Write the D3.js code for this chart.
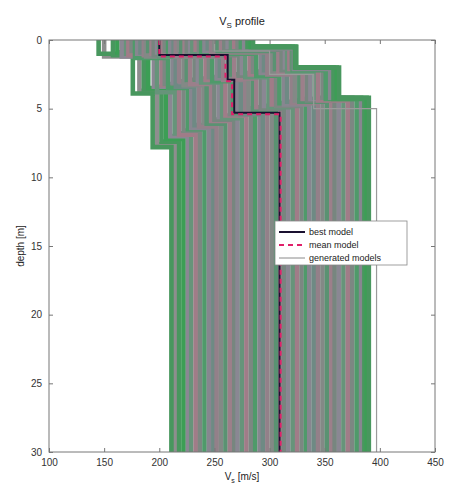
<!DOCTYPE html>
<html><head><meta charset="utf-8">
<script src="https://cdn.jsdelivr.net/npm/d3@7"></script>
<style>body{margin:0;background:#fff}svg{display:block}text{font-family:"Liberation Sans",Arial,sans-serif}</style>
</head><body>
<svg id="c" width="449" height="486"></svg>
<script>
// Monte Carlo ensemble: per-model layer velocities (m/s) and layer bottoms (m)
const layer1Vs = [145,150,158,162,166,170,172,175,178,180,183,186,188,190,193,195,198,200,203,205,208,210,213,215,218,220,223,225,228,230,233,236,238,241,244,247,250,253,256,259,262,265,268,271,274,277,280,283,285,250];
const layer2Vs = [176,182,186,190,195,198,202,205,208,212,215,218,222,225,228,232,235,238,242,245,248,252,255,258,262,265,268,272,275,278,282,285,288,292,295,298,302,305,308,311,314,316,318,320,321,322,323,324,324,300];
const layer3Vs = [194,198,202,206,210,214,218,222,226,229,232,236,240,243,247,250,254,257,260,264,267,271,274,278,281,285,288,292,295,299,302,306,309,313,316,320,323,327,330,334,337,341,344,348,351,355,358,361,363,340];
const halfspaceVs = [211,214,218,222,226,229,233,237,241,245,249,252,256,260,264,268,271,275,279,283,287,291,294,298,302,306,310,313,317,321,325,329,333,336,340,344,348,352,356,359,363,367,371,375,379,383,386,388,390,397];
const layer1Bottom = [1.0,1.2,1.1,0.9,1.2,1.0,1.1,0.8,1.3,1.0,0.9,1.1,1.2,0.8,1.0,1.1,0.9,1.2,1.0,0.8,1.1,0.9,1.0,1.2,0.7,1.0,0.9,1.1,0.8,1.0,0.7,0.9,1.0,0.8,0.6,0.9,0.7,0.8,0.6,0.7,0.5,0.6,0.5,0.6,0.5,0.6,0.5,0.5,0.5,0.8];
const layer2Bottom = [3.9,3.7,3.6,3.5,3.4,3.8,3.3,3.2,3.5,3.1,3.4,3.0,3.3,2.9,3.2,2.8,3.0,3.1,2.9,2.7,3.0,2.8,2.6,2.9,2.7,2.5,2.8,2.6,2.4,2.7,2.5,2.3,2.6,2.4,2.2,2.5,2.3,2.1,2.4,2.2,2.0,2.3,2.1,2.0,2.2,2.1,2.0,2.0,2.0,2.5];
const layer3Bottom = [7.8,7.6,7.4,7.2,7.0,6.8,6.9,6.6,6.5,6.4,6.2,6.3,6.0,6.1,5.9,5.8,5.6,5.7,5.5,5.4,5.3,5.2,5.4,5.1,5.0,5.2,4.9,5.0,4.8,4.9,4.7,4.8,4.6,4.7,4.5,4.6,4.4,4.5,4.3,4.4,4.3,4.2,4.4,4.2,4.3,4.2,4.3,4.2,4.2,5.0];

// best and mean model: layer velocities and layer bottoms
const bestVs = [200,262,268,309];
const bestBottom = [1.1,2.9,5.3];
const meanVs = [200,260,266,310];
const meanBottom = [1.2,3.0,5.4];

const xTicks = [100,150,200,250,300,350,400,450];
const yTicks = [0,5,10,15,20,25,30];
const legendLabels = ["best model","mean model","generated models"];

const maxDepth = 30;
const svg = d3.select("#c");
const L=49,R=435,T=40,B=452;
const x = d3.scaleLinear().domain([100,450]).range([L,R]);
const y = d3.scaleLinear().domain([0,30]).range([T,B]);

function profile(vs, bottoms){
  const pts=[]; let top=0;
  vs.forEach((v,i)=>{
    const bot = i<bottoms.length ? bottoms[i] : maxDepth;
    pts.push([v,top]); pts.push([v,bot]); top=bot;
  });
  return pts;
}
const line = d3.line().x(d=>x(d[0])).y(d=>y(d[1]));

const palette = ["#838986","#5a9272","#9c7f8a","#77867f","#8a8793","#66947a","#a07c88","#7c8782","#4f9a6a","#878690","#6e8a84","#938089"];
const models = halfspaceVs.map((v,i)=>({i, pts: profile([layer1Vs[i],layer2Vs[i],layer3Vs[i],v],[layer1Bottom[i],layer2Bottom[i],layer3Bottom[i]])}));

const g = svg.append("g");
g.append("defs").append("clipPath").attr("id","clip").append("rect").attr("x",L).attr("y",T).attr("width",R-L).attr("height",B-T);
const plot = g.append("g").attr("clip-path","url(#clip)");

function col(i){
  if(i===49) return "#9a9a9a";
  if(i===1) return "#8e8e8e";
  if(i<=3 || i>=46) return i%2? "#3c9e55":"#48975e";
  return palette[i%palette.length];
}
// draw order: one gray outlier model first so the green edge models sit on top
const order = [1].concat(d3.range(0,50).filter(i=>i!==1));
plot.selectAll("path.m").data(order.map(i=>models[i])).join("path").attr("class","m")
  .attr("d",d=>line(d.pts)).attr("fill","none")
  .attr("stroke",d=>col(d.i))
  .attr("stroke-width",d=> d.i===49?1.2:4.6).attr("stroke-linejoin","miter");

plot.append("path").attr("d",line(profile(bestVs,bestBottom))).attr("fill","none").attr("stroke","#1a1030").attr("stroke-width",2);
plot.append("path").attr("d",line(profile(meanVs,meanBottom))).attr("fill","none").attr("stroke","#e0206a").attr("stroke-width",2).attr("stroke-dasharray","5,4");

// axes box
const ac="#777";
g.append("rect").attr("x",L).attr("y",T).attr("width",R-L).attr("height",B-T).attr("fill","none").attr("stroke",ac).attr("stroke-width",1);
const tl=4;
g.append("g").attr("transform",`translate(0,${B})`).call(d3.axisBottom(x).tickValues(xTicks).tickSize(-tl).tickPadding(7).tickFormat(d3.format("d")))
 .call(a=>{a.select(".domain").remove();a.selectAll("line").attr("stroke",ac);a.selectAll("text").attr("font-size",10).attr("fill","#333");});
g.append("g").attr("transform",`translate(0,${T})`).call(d3.axisTop(x).tickValues(xTicks).tickSize(-tl).tickFormat(""))
 .call(a=>{a.select(".domain").remove();a.selectAll("line").attr("stroke",ac);});
g.append("g").attr("transform",`translate(${L},0)`).call(d3.axisLeft(y).tickValues(yTicks).tickSize(-tl).tickPadding(7).tickFormat(d3.format("d")))
 .call(a=>{a.select(".domain").remove();a.selectAll("line").attr("stroke",ac);a.selectAll("text").attr("font-size",10).attr("fill","#333");});
g.append("g").attr("transform",`translate(${R},0)`).call(d3.axisRight(y).tickValues(yTicks).tickSize(-tl).tickFormat(""))
 .call(a=>{a.select(".domain").remove();a.selectAll("line").attr("stroke",ac);});

// title & labels
const t = svg.append("text").attr("x",242).attr("y",25).attr("text-anchor","middle").attr("font-size",11).attr("fill","#222");
t.append("tspan").text("V");
t.append("tspan").attr("dy",3).attr("font-size",8).text("S");
t.append("tspan").attr("dy",-3).text(" profile");
const xl = svg.append("text").attr("x",242).attr("y",480).attr("text-anchor","middle").attr("font-size",10).attr("fill","#222");
xl.append("tspan").text("V");
xl.append("tspan").attr("dy",3).attr("font-size",7).text("s");
xl.append("tspan").attr("dy",-3).text(" [m/s]");
svg.append("text").attr("transform","translate(24,246) rotate(-90)").attr("text-anchor","middle").attr("font-size",10).attr("fill","#222").text("depth [m]");

// legend
const lg = svg.append("g");
lg.append("rect").attr("x",275).attr("y",221).attr("width",132).attr("height",44).attr("fill","#fff").attr("stroke","#888").attr("stroke-width",0.8);
const ly=[232,245,258];
lg.append("line").attr("x1",279).attr("x2",305).attr("y1",ly[0]).attr("y2",ly[0]).attr("stroke","#1a1030").attr("stroke-width",2);
lg.append("line").attr("x1",279).attr("x2",305).attr("y1",ly[1]).attr("y2",ly[1]).attr("stroke","#e0206a").attr("stroke-width",2).attr("stroke-dasharray","5,4");
lg.append("line").attr("x1",279).attr("x2",305).attr("y1",ly[2]).attr("y2",ly[2]).attr("stroke","#8a8a8a").attr("stroke-width",1);
legendLabels.forEach((s,i)=>lg.append("text").attr("x",309).attr("y",ly[i]+3).attr("font-size",9).attr("fill","#222").text(s));
</script>
</body></html>
